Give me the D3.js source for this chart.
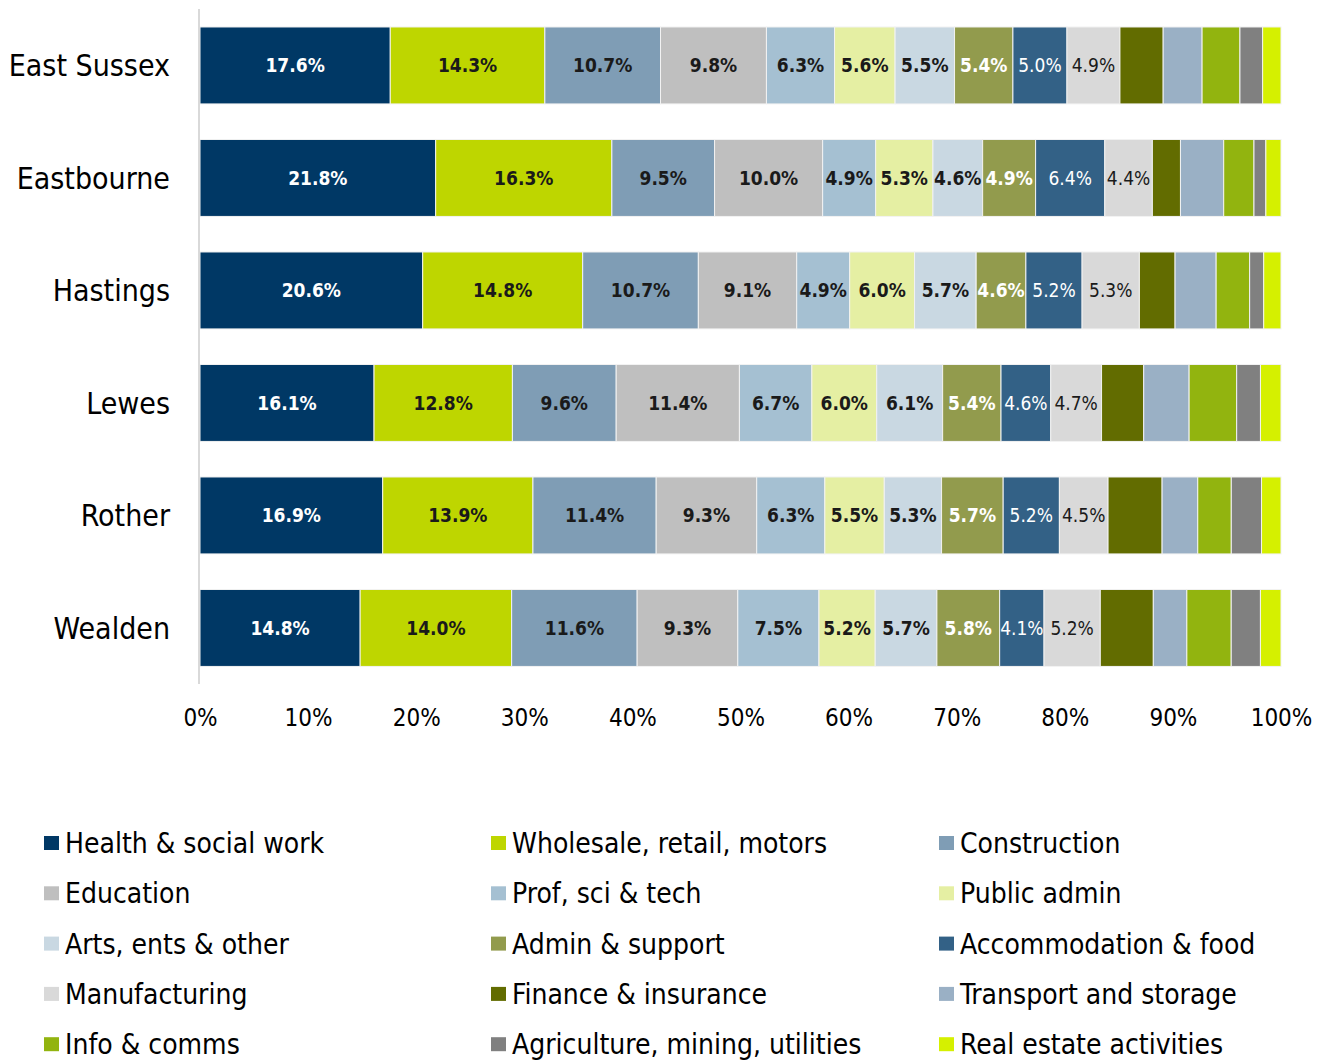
<!DOCTYPE html>
<html>
<head>
<meta charset="utf-8">
<script src="https://cdn.jsdelivr.net/npm/d3@7"></script>
<style>
  body { margin: 0; background: #fff; }
  text { font-family: "DejaVu Sans Condensed", "DejaVu Sans", sans-serif; }
</style>
</head>
<body>
<script>
// areas, top to bottom
var areas = ["East Sussex", "Eastbourne", "Hastings", "Lewes", "Rother", "Wealden"];

// sectors in stack order (left to right)
var sectors = ["Health & social work", "Wholesale, retail, motors", "Construction",
    "Education", "Prof, sci & tech", "Public admin",
    "Arts, ents & other", "Admin & support", "Accommodation & food",
    "Manufacturing", "Finance & insurance", "Transport and storage",
    "Info & comms", "Agriculture, mining, utilities", "Real estate activities"];

var colors = ["#003865", "#bed600", "#7f9db5",
    "#bfbfbf", "#a5c0d2", "#e5efa3",
    "#c9d8e2", "#929b4d", "#336186",
    "#d9d9d9", "#626c00", "#9ab0c5",
    "#92b40f", "#808080", "#d5f000"];

// share of employment (%) per sector, one array per area
var eastSussex = [17.6, 14.3, 10.7, 9.8, 6.3, 5.6, 5.5, 5.4, 5.0, 4.9, 4.0, 3.6, 3.5, 2.1, 1.7];
var eastbourne = [21.8, 16.3, 9.5, 10.0, 4.9, 5.3, 4.6, 4.9, 6.4, 4.4, 2.6, 4.0, 2.8, 1.1, 1.4];
var hastings   = [20.6, 14.8, 10.7, 9.1, 4.9, 6.0, 5.7, 4.6, 5.2, 5.3, 3.3, 3.8, 3.1, 1.3, 1.6];
var lewes      = [16.1, 12.8, 9.6, 11.4, 6.7, 6.0, 6.1, 5.4, 4.6, 4.7, 3.9, 4.2, 4.4, 2.2, 1.9];
var rother     = [16.9, 13.9, 11.4, 9.3, 6.3, 5.5, 5.3, 5.7, 5.2, 4.5, 5.0, 3.3, 3.1, 2.8, 1.8];
var wealden    = [14.8, 14.0, 11.6, 9.3, 7.5, 5.2, 5.7, 5.8, 4.1, 5.2, 4.9, 3.1, 4.1, 2.7, 1.9];

var xTicks = [0, 0.1, 0.2, 0.3, 0.4, 0.5, 0.6, 0.7, 0.8, 0.9, 1];

var areaValues = [eastSussex, eastbourne, hastings, lewes, rother, wealden];
var labelledCount = 10; // only the first ten sectors carry labels

// label styling per sector
var labelFill = ["#fff", "#1a1a1a", "#1a1a1a", "#1a1a1a", "#1a1a1a", "#1a1a1a", "#1a1a1a", "#fff", "#fff", "#1a1a1a"];
var labelBold = [true, true, true, true, true, true, true, true, false, false];

var width = 1327, height = 1061;

var rows = areas.map(function(a, i) {
    var r = { area: a };
    sectors.forEach(function(s, j) { r[s] = areaValues[i][j]; });
    return r;
});

var stack = d3.stack().keys(sectors).offset(d3.stackOffsetExpand);
var series = stack(rows);

var xScale = d3.scaleLinear().domain([0, 1]).range([200, 1281]);
var yScale = d3.scaleBand().domain(areas).range([9.2, 684.2])
    .paddingInner(0.316).paddingOuter(0.158);

var svg = d3.select("body").append("svg")
    .attr("width", width)
    .attr("height", height);

// bars
var groups = svg.append("g").selectAll("g")
    .data(series)
    .join("g")
    .attr("fill", function(d, i) { return colors[i]; });

groups.selectAll("rect")
    .data(function(d) { return d; })
    .join("rect")
    .attr("x", function(d) { return xScale(d[0]); })
    .attr("width", function(d) { return xScale(d[1]) - xScale(d[0]); })
    .attr("y", function(d) { return yScale(d.data.area); })
    .attr("height", yScale.bandwidth())
    .attr("stroke", "#f2f2f2")
    .attr("stroke-width", 1);

// value labels
series.slice(0, labelledCount).forEach(function(s, i) {
    svg.append("g").selectAll("text")
        .data(s)
        .join("text")
        .attr("x", function(d) { return (xScale(d[0]) + xScale(d[1])) / 2; })
        .attr("y", function(d) { return yScale(d.data.area) + yScale.bandwidth() / 2; })
        .attr("dy", "0.36em")
        .attr("text-anchor", "middle")
        .attr("font-size", 19)
        .attr("font-weight", labelBold[i] ? "bold" : "normal")
        .attr("fill", labelFill[i])
        .text(function(d) { return d.data[s.key].toFixed(1) + "%"; });
});

// vertical axis line + category labels
svg.append("line")
    .attr("x1", 199).attr("x2", 199)
    .attr("y1", 9).attr("y2", 684)
    .attr("stroke", "#d9d9d9")
    .attr("stroke-width", 2);

svg.append("g").selectAll("text")
    .data(areas)
    .join("text")
    .attr("x", 170)
    .attr("y", function(d) { return yScale(d) + yScale.bandwidth() / 2; })
    .attr("dy", "0.36em")
    .attr("text-anchor", "end")
    .attr("font-size", 30)
    .attr("fill", "#000")
    .text(function(d) { return d; });

// x axis tick labels
var xAxis = d3.axisBottom(xScale)
    .tickValues(xTicks)
    .tickFormat(d3.format(".0%"))
    .tickSize(0)
    .tickPadding(0);

var axisG = svg.append("g")
    .attr("transform", "translate(0,709)")
    .call(xAxis);
axisG.select(".domain").remove();
axisG.selectAll("text")
    .attr("font-size", 24)
    .attr("font-family", "DejaVu Sans Condensed, DejaVu Sans, sans-serif")
    .attr("fill", "#000")
    .attr("dy", "0.71em");

// legend, 3 columns
var legendX = [44, 491, 939];
var legendY0 = 843, legendStep = 50.3;

var legend = svg.append("g").selectAll("g")
    .data(sectors)
    .join("g")
    .attr("transform", function(d, i) {
        return "translate(" + legendX[i % 3] + "," + (legendY0 + Math.floor(i / 3) * legendStep) + ")";
    });

legend.append("rect")
    .attr("x", 0).attr("y", -7)
    .attr("width", 15).attr("height", 14)
    .attr("fill", function(d, i) { return colors[i]; });

legend.append("text")
    .attr("x", 21)
    .attr("dy", "0.36em")
    .attr("font-size", 28)
    .attr("fill", "#000")
    .text(function(d) { return d; });
</script>
</body>
</html>
